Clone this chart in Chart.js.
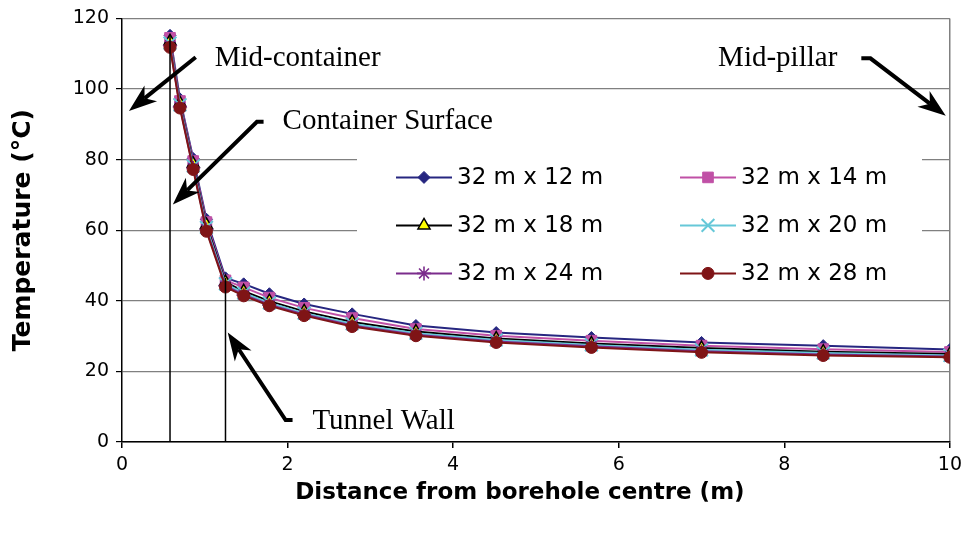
<!DOCTYPE html>
<html>
<head>
<meta charset="utf-8">
<script src="https://cdn.jsdelivr.net/npm/chart.js@4.4.1/dist/chart.umd.min.js"></script>
<style>
  html, body { margin: 0; padding: 0; background: #fff; }
  #wrap { width: 968px; height: 533px; }
</style>
</head>
<body>
<div id="wrap"><canvas id="chart" width="968" height="533"></canvas></div>
<script>
// distance from borehole centre (m)
const distances = [0.58, 0.70, 0.86, 1.02, 1.25, 1.47, 1.78, 2.20, 2.78, 3.55, 4.52, 5.67, 7.00, 8.47, 10.00];

const seriesLabels = ['32 m x 12 m', '32 m x 14 m', '32 m x 18 m', '32 m x 20 m', '32 m x 24 m', '32 m x 28 m'];

// temperature (°C) for each spacing
const temp12 = [115.2, 97.2, 80.3, 63.1, 46.5, 44.8, 42.0, 39.1, 36.3, 33.0, 31.0, 29.6, 28.2, 27.3, 26.2];
const temp14 = [114.5, 96.6, 79.6, 62.3, 45.8, 43.8, 40.9, 38.0, 35.1, 32.0, 30.1, 28.7, 27.3, 26.3, 25.5];
const temp18 = [113.5, 96.0, 78.8, 61.5, 45.3, 42.7, 39.9, 37.0, 34.0, 31.3, 29.3, 27.9, 26.6, 25.6, 24.9];
const temp20 = [113.0, 95.5, 78.2, 60.8, 44.8, 42.2, 39.4, 36.5, 33.5, 30.8, 28.9, 27.5, 26.1, 25.2, 24.5];
const temp24 = [112.3, 95.0, 77.6, 60.2, 44.3, 41.7, 38.9, 36.1, 33.0, 30.4, 28.5, 27.1, 25.7, 24.8, 24.2];
const temp28 = [111.8, 94.6, 77.2, 59.7, 43.9, 41.4, 38.6, 35.8, 32.7, 30.1, 28.2, 26.8, 25.4, 24.5, 24.0];

const xTicks = [0, 2, 4, 6, 8, 10];
const yTicks = [0, 20, 40, 60, 80, 100, 120];

// container surface and tunnel wall marker lines
const containerSurface = 0.58;
const tunnelWall = 1.25;

// annotation labels, in data units
const notes = [
  { text: 'Mid-container', at: [1.12, 106.5], arrow: [[0.89, 109], [0.084, 93.8]] },
  { text: 'Container Surface', at: [1.94, 88.7], arrow: [[1.71, 90.7], [1.63, 90.7], [0.614, 67.3]] },
  { text: 'Mid-pillar', at: [7.2, 106.5], arrow: [[8.93, 108.7], [9.04, 108.7], [9.95, 92.4]] },
  { text: 'Tunnel Wall', at: [2.3, 3.7], arrow: [[2.06, 6.2], [1.976, 6.2], [1.277, 31]] }
];

const styles = [
  { color: '#262680', fill: '#262680', shape: 'rectRot', r: 6, bw: 1 },
  { color: '#c050a6', fill: '#c050a6', shape: 'rect', r: 7.5, bw: 1 },
  { color: '#000000', fill: '#ffff00', shape: 'triangle', r: 7, bw: 1.5 },
  { color: '#66c8d8', fill: '#66c8d8', shape: 'crossRot', r: 9, bw: 2 },
  { color: '#7b2c8c', fill: '#7b2c8c', shape: 'star', r: 7, bw: 1.6 },
  { color: '#7f1416', fill: '#7f1416', shape: 'circle', r: 6, bw: 1 }
];

const allTemps = [temp12, temp14, temp18, temp20, temp24, temp28];

const datasets = allTemps.map((vals, i) => ({
  label: seriesLabels[i],
  data: vals.map((v, j) => ({ x: distances[j], y: v })),
  borderColor: styles[i].color,
  backgroundColor: styles[i].fill,
  pointBorderColor: styles[i].color,
  pointBackgroundColor: styles[i].fill,
  pointStyle: styles[i].shape,
  pointRadius: styles[i].r,
  pointBorderWidth: styles[i].bw,
  borderWidth: 2,
  tension: 0,
  order: allTemps.length - i
}));

// vertical lines up to the curve
[containerSurface, tunnelWall].forEach(xv => {
  const j = distances.indexOf(xv);
  datasets.push({
    label: '',
    data: [{ x: xv, y: 0 }, { x: xv, y: temp12[j] }],
    borderColor: '#000',
    borderWidth: 1.5,
    pointRadius: 0,
    order: -1
  });
});

const legendBox = {
  id: 'legendBox',
  beforeDatasetsDraw(chart) {
    const { ctx, chartArea: a } = chart;
    ctx.save();
    ctx.fillStyle = '#fff';
    ctx.fillRect(a.left + 235, a.top + 130, 565, 146);
    ctx.font = '23px "DejaVu Sans"';
    ctx.textBaseline = 'middle';
    ctx.fillStyle = '#000';
    seriesLabels.forEach((lbl, i) => {
      const col = i % 2, row = Math.floor(i / 2);
      const x0 = a.left + 274 + col * 284;
      const y0 = a.top + 159 + row * 48;
      const s = styles[i];
      ctx.strokeStyle = s.color;
      ctx.lineWidth = 2;
      ctx.beginPath();
      ctx.moveTo(x0, y0);
      ctx.lineTo(x0 + 56, y0);
      ctx.stroke();
      ctx.strokeStyle = s.color;
      ctx.fillStyle = s.fill;
      ctx.lineWidth = s.bw;
      Chart.helpers.drawPoint(ctx, { pointStyle: s.shape, radius: s.r, rotation: 0, borderWidth: s.bw }, x0 + 28, y0);
      ctx.fillStyle = '#000';
      ctx.fillText(lbl, x0 + 61, y0 + 1);
    });
    ctx.restore();
  }
};

function arrowHead(ctx, from, tip) {
  const ang = Math.atan2(tip[1] - from[1], tip[0] - from[0]);
  const len = 28, half = 10, notch = 20;
  const c = Math.cos(ang), s = Math.sin(ang);
  const bx = tip[0] - c * len, by = tip[1] - s * len;
  ctx.beginPath();
  ctx.moveTo(tip[0], tip[1]);
  ctx.lineTo(bx - s * half, by + c * half);
  ctx.lineTo(tip[0] - c * notch, tip[1] - s * notch);
  ctx.lineTo(bx + s * half, by - c * half);
  ctx.closePath();
  ctx.fill();
}

const notesPlugin = {
  id: 'notes',
  afterDatasetsDraw(chart) {
    const { ctx, scales: { x, y } } = chart;
    ctx.save();
    ctx.fillStyle = '#000';
    ctx.strokeStyle = '#000';
    ctx.font = '29px "Liberation Serif"';
    ctx.textBaseline = 'alphabetic';
    notes.forEach(n => {
      ctx.fillText(n.text, x.getPixelForValue(n.at[0]), y.getPixelForValue(n.at[1]));
      const pts = n.arrow.map(p => [x.getPixelForValue(p[0]), y.getPixelForValue(p[1])]);
      const tip = pts[pts.length - 1];
      const prev = pts[pts.length - 2];
      const ang = Math.atan2(tip[1] - prev[1], tip[0] - prev[0]);
      const end = [tip[0] - Math.cos(ang) * 20, tip[1] - Math.sin(ang) * 20];
      ctx.lineWidth = 4;
      ctx.lineJoin = 'miter';
      ctx.lineCap = 'butt';
      ctx.beginPath();
      ctx.moveTo(pts[0][0], pts[0][1]);
      for (let k = 1; k < pts.length - 1; k++) ctx.lineTo(pts[k][0], pts[k][1]);
      ctx.lineTo(end[0], end[1]);
      ctx.stroke();
      arrowHead(ctx, prev, tip);
    });
    ctx.restore();
  }
};

new Chart(document.getElementById('chart'), {
  type: 'line',
  data: { datasets },
  options: {
    responsive: false,
    animation: false,
    devicePixelRatio: 1,
    layout: { padding: { left: 0, right: 16, top: 16, bottom: 0 } },
    plugins: {
      legend: { display: false },
      tooltip: { enabled: false }
    },
    scales: {
      x: {
        type: 'linear',
        min: 0,
        max: 10,
        afterBuildTicks: s => { s.ticks = xTicks.map(v => ({ value: v })); },
        ticks: { color: '#000', font: { family: 'DejaVu Sans', size: 19 }, padding: 6 },
        grid: {
          color: c => (c.tick && c.tick.value === 10 ? '#808080' : 'rgba(0,0,0,0)'),
          tickColor: '#000',
          tickLength: 6,
          lineWidth: 1.5
        },
        border: { color: '#000', width: 1.5 },
        title: {
          display: true,
          text: 'Distance from borehole centre (m)\u00a0\u00a0\u00a0\u00a0',
          color: '#000',
          font: { family: 'DejaVu Sans', size: 23, weight: 'bold' },
          padding: { top: 0, bottom: 26 }
        },
        afterFit: s => { s.height = 91; }
      },
      y: {
        min: 0,
        max: 120,
        afterBuildTicks: s => { s.ticks = yTicks.map(v => ({ value: v })); },
        ticks: { color: '#000', font: { family: 'DejaVu Sans', size: 19 }, padding: 7 },
        grid: { color: '#808080', tickColor: '#000', tickLength: 6, lineWidth: 1.2 },
        border: { color: '#000', width: 1.5 },
        title: {
          display: true,
          text: 'Temperature (°C)',
          color: '#000',
          font: { family: 'DejaVu Sans', size: 25, weight: 'bold' },
          padding: { top: 8, bottom: 0 }
        },
        afterFit: s => { s.width = 122; }
      }
    }
  },
  plugins: [legendBox, notesPlugin]
});
</script>
</body>
</html>
